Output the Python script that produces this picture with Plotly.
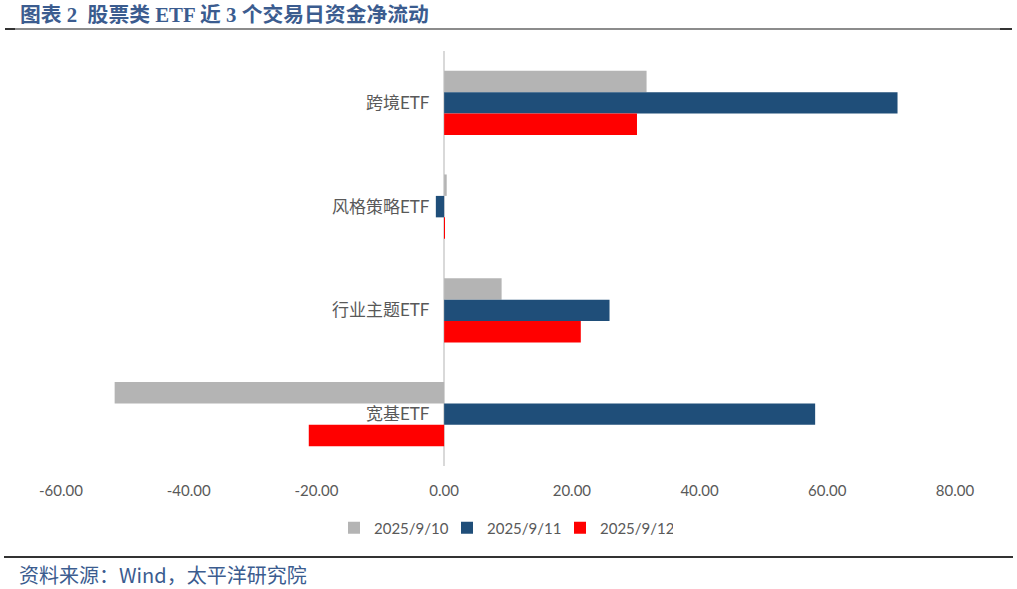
import plotly.graph_objects as go

categories = ["跨境ETF", "风格策略ETF", "行业主题ETF", "宽基ETF"]
series_names = ["2025/9/10", "2025/9/11", "2025/9/12"]
v_0910 = [31.7, 0.4, 9.0, -51.6]
v_0911 = [71.0, -1.3, 25.9, 58.1]
v_0912 = [30.2, 0.05, 21.4, -21.2]
x_ticks = [-60, -40, -20, 0, 20, 40, 60, 80]
x_tick_labels = [f"{v:.2f}" for v in x_ticks]

colors = ["#B4B4B4", "#1F4E79", "#FF0000"]

W, H = 1017, 589
L, R, T, B = 61, 62, 51, 123
pw, ph = W - L - R, H - T - B

def px(x):
    return (x - L) / pw

def py(y):
    return (H - B - y) / ph

fig = go.Figure()
for name, vals, c in zip(series_names, [v_0910, v_0911, v_0912], colors):
    fig.add_trace(go.Bar(
        y=categories, x=vals, name=name, orientation="h",
        marker=dict(color=c, line=dict(width=0)),
    ))

font_main = "Lato, 'Noto Sans CJK SC', sans-serif"

fig.update_layout(
    width=W, height=H,
    margin=dict(l=L, r=R, t=T, b=B),
    paper_bgcolor="white", plot_bgcolor="white",
    barmode="group", bargap=0.38, bargroupgap=0,
    showlegend=True,
    legend=dict(orientation="h", x=px(334), xanchor="left", y=py(528), yanchor="middle",
                font=dict(family=font_main, size=15, color="#595959"),
                itemwidth=30, entrywidth=68, entrywidthmode="pixels", traceorder="normal"),
    xaxis=dict(range=[-60, 80], tickvals=x_ticks, ticktext=x_tick_labels,
               showgrid=False, zeroline=True, zerolinecolor="#D9D9D9", zerolinewidth=1.5,
               showline=False, ticks="", ticklabelstandoff=14,
               tickfont=dict(family=font_main, size=15, color="#595959")),
    yaxis=dict(autorange="reversed", anchor="free", position=(445.5 - L) / pw,
               showgrid=False, zeroline=False, showline=False, ticks="",
               ticklabelstandoff=16,
               tickfont=dict(family=font_main, size=17, color="#595959")),
)

fig.add_annotation(
    text="<b>图表 2  股票类 ETF 近 3 个交易日资金净流动</b>",
    xref="paper", yref="paper", x=px(18), y=py(15), xanchor="left", yanchor="middle",
    showarrow=False,
    font=dict(family="'Liberation Serif', 'Noto Sans CJK SC', serif", size=20.8, color="#3B5C8F"),
)
fig.add_annotation(
    text="资料来源：Wind，太平洋研究院",
    xref="paper", yref="paper", x=px(17), y=py(574), xanchor="left", yanchor="middle",
    showarrow=False,
    font=dict(family="'Noto Sans CJK SC', sans-serif", size=20, color="#3B5C8F"),
)

# top rule and bottom rule
fig.add_shape(type="line", xref="paper", yref="paper", x0=px(5), x1=px(1012), y0=py(29), y1=py(29),
              line=dict(color="#8C8C8C", width=2))
fig.add_shape(type="line", xref="paper", yref="paper", x0=px(5), x1=px(15), y0=py(29), y1=py(29),
              line=dict(color="#333333", width=2))
fig.add_shape(type="line", xref="paper", yref="paper", x0=px(1000), x1=px(1012), y0=py(29), y1=py(29),
              line=dict(color="#333333", width=2))
fig.add_shape(type="line", xref="paper", yref="paper", x0=px(4), x1=px(1013), y0=py(557), y1=py(557),
              line=dict(color="#333333", width=2))

fig.write_html("out.html", config={"displayModeBar": False},
               post_script="document.body.style.margin='0';")
